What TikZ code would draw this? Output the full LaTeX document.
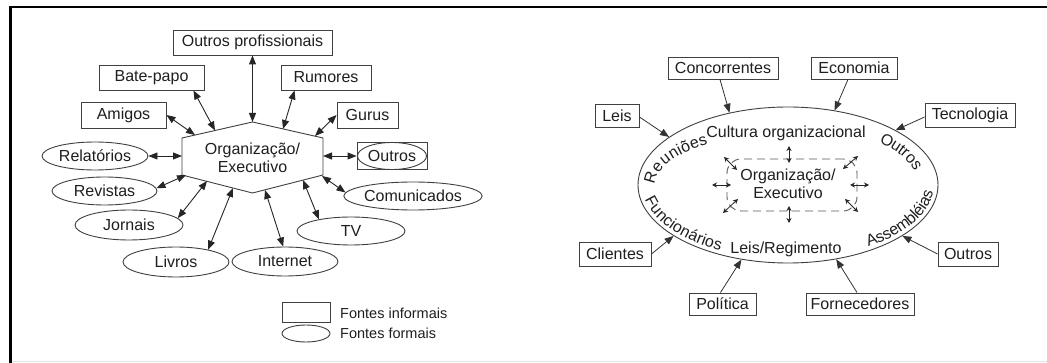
\documentclass[tikz,border=0pt]{standalone}
\usepackage{fontspec}
\setmainfont{Liberation Sans}
\usetikzlibrary{shapes.geometric,arrows.meta,calc}
% place characters one by one along an ellipse arc
% #1 cx, #2 cy, #3 rx, #4 ry, #5 start angle, #6 direction (1 or -1), #7 list of characters
\newcommand\ellchars[7]{%
  \xdef\ecT{#5}%
  \foreach \ch in {#7}{%
    \fontsize{16}{18}\selectfont
    \pgfmathwidth{"\ch"}\global\let\ecW\pgfmathresult
    \pgfmathsetmacro\ecS{veclen(#3*sin(\ecT),#4*cos(\ecT))}%
    \pgfmathsetmacro\ecD{#6*\ecW/\ecS*57.29578}%
    \pgfmathsetmacro\ecM{\ecT+\ecD/2}%
    \pgfmathsetmacro\ecR{atan2(-#6*#4*cos(\ecM), -#6*#3*sin(\ecM))}%
    \node[anchor=base, rotate=\ecR, inner sep=0pt] at ({#1+#3*cos(\ecM)},{#2+#4*sin(\ecM)}) {\ch};
    \pgfmathsetmacro\ecN{\ecT+\ecD}%
    \xdef\ecT{\ecN}%
  }%
}
\begin{document}
\begin{tikzpicture}[x=1pt,y=-1pt,
  every node/.style={font=\fontsize{16}{18}\selectfont, text=black!88},
  ibox/.style={draw=black!75, line width=0.9pt, rectangle, minimum height=25pt, inner sep=0pt},
  fbox/.style={draw=black!75, line width=0.9pt, ellipse, inner sep=0pt},
  dbl/.style={{Triangle[length=9pt,width=7pt]}-{Triangle[length=9pt,width=7pt]}, line width=0.9pt, draw=black!85},
  sgl/.style={-{Triangle[length=9pt,width=7pt]}, line width=0.8pt, draw=black!80},
  smallarr/.style={{Stealth[length=5pt,width=5pt]}-{Stealth[length=5pt,width=5pt]}, line width=0.8pt, draw=black!85},
]
\useasboundingbox (0,0) rectangle (1047,363);
\fill[white] (0,0) rectangle (1047,363);
% frame
\draw[line width=2.5pt] (10.3,363) -- (10.3,7.2) -- (1047,7.2);
\draw[black!10, line width=1pt] (11.5,361.5) -- (1047,361.5);

% ---------------- left diagram ----------------
\coordinate (ht) at (252.5,122);
\coordinate (hul) at (182,138);
\coordinate (hll) at (182,175);
\coordinate (hb) at (252.5,193);
\coordinate (hlr) at (323,175);
\coordinate (hur) at (323,138);
\draw[black!75, line width=0.9pt] (ht) -- (hul) -- (hll) -- (hb) -- (hlr) -- (hur) -- cycle;
\node[align=center] (hex) at (252.5,158) {Organização/\\Executivo};

\coordinate (hbp) at (215,130.5);
\coordinate (hrm) at (283,129);
\coordinate (ham) at (195,135);
\coordinate (hgu) at (315,136);
\coordinate (hrel) at (182,156);
\coordinate (hou) at (323,156);
\coordinate (hrev) at (186,175);
\coordinate (hcom) at (322,176);
\coordinate (hjor) at (207,181);
\coordinate (htv) at (303,180);
\coordinate (hliv) at (233,188);
\coordinate (hint) at (265,190);

\node[ibox, minimum width=159pt] (op) at (252.5,42.5) {Outros profissionais};
\node[ibox, minimum width=105pt] (bp) at (151.5,77.5) {Bate-papo};
\node[ibox, minimum width=90pt] (rm) at (326,77.5) {Rumores};
\node[ibox, minimum width=85pt, minimum height=26pt] (am) at (123.5,115) {Amigos};
\node[ibox, minimum width=61pt, minimum height=26pt] (gu) at (367.5,115) {Gurus};
\node[fbox, minimum width=106pt, minimum height=28pt] (rel) at (95,156) {Relatórios};
\node[ibox, minimum width=70pt, minimum height=27pt] (oub) at (392,156) {};
\node[fbox, minimum width=69pt, minimum height=27pt] (ou) at (392,156) {Outros};
\node[fbox, minimum width=105pt, minimum height=28pt] (rev) at (104.5,191) {Revistas};
\node[fbox, minimum width=126pt, minimum height=28pt] (com) at (413,196) {Comunicados};
\node[fbox, minimum width=108pt, minimum height=30pt] (jor) at (129,225) {Jornais};
\node[fbox, minimum width=108pt, minimum height=28pt] (tv) at (351,231) {TV};
\node[fbox, minimum width=106pt, minimum height=30pt] (liv) at (176,262) {Livros};
\node[fbox, minimum width=106pt, minimum height=29pt] (int) at (285,261.5) {Internet};

\draw[dbl] (op.south) -- (ht);
\draw[dbl] ([xshift=-11pt]bp.south east) -- (hbp);
\draw[dbl] ([xshift=14pt]rm.south west) -- (hrm);
\draw[dbl] (am.east) -- (ham);
\draw[dbl] (gu.west) -- (hgu);
\draw[dbl] (rel.east) -- (hrel);
\draw[dbl] (hou) -- (oub.west);
\draw[dbl] (rev.3) -- (hrev);
\draw[dbl] (hcom) -- (com.177);
\draw[dbl] (jor.8) -- (hjor);
\draw[dbl] (htv) -- (tv.160);
\draw[dbl] (liv.21) -- (hliv);
\draw[dbl] (hint) -- (int.97);

% legend
\node[draw=black!75, line width=0.9pt, minimum width=48pt, minimum height=20pt, inner sep=0pt] (lr) at (306,312) {};
\node[draw=black!75, ellipse, line width=0.9pt, minimum width=48pt, minimum height=17pt, inner sep=0pt] (le) at (306,333.5) {};
\node[anchor=west, inner sep=0pt, font=\fontsize{14.5}{16}\selectfont] (lt1) at (340,313) {Fontes informais};
\node[anchor=west, inner sep=0pt, font=\fontsize{14.5}{16}\selectfont] (lt2) at (340,333) {Fontes formais};

% ---------------- right diagram ----------------
\node[ellipse, draw=black!75, line width=0.9pt, minimum width=300pt, minimum height=156pt, inner sep=0pt] (E) at (788,185) {};

\node (cult) at (786,133) {Cultura organizacional};
\node (lreg) at (786,249) {Leis/Regimento};

\ellchars{788}{185}{133}{51}{180}{1}{R,e,u,n,i,õ,e,s}
\ellchars{788}{185}{146}{74}{168.6}{-1}{F,u,n,c,i,o,n,á,r,i,o,s}
\ellchars{788}{185}{130}{60}{314.5}{1}{O,u,t,r,o,s}
\ellchars{788}{185}{146}{74}{56.6}{-1}{A,s,s,e,m,b,l,é,i,a,s}

\node[draw=black!65, dash pattern=on 8pt off 5pt, line width=0.9pt, rounded corners=14pt, minimum width=130pt, minimum height=52pt, inner sep=0pt] (inner) at (792,185) {};
\node[align=center] (itext) at (788,184) {Organização/\\Executivo};

\draw[smallarr] (789,146) -- (789,163);
\draw[smallarr] (789,206) -- (789,223);
\draw[smallarr] (712,185) -- (731,185);
\draw[smallarr] (850,185) -- (869,185);
\draw[smallarr] (724,157) -- (737,170);
\draw[smallarr] (723,213) -- (738,199);
\draw[smallarr] (843,169) -- (858,156);
\draw[smallarr] (845,199) -- (858,212);

\node[ibox, minimum width=110pt, minimum height=22pt] (conc) at (723,68) {Concorrentes};
\node[ibox, minimum width=86pt, minimum height=22pt] (eco) at (854,68) {Economia};
\node[ibox, minimum width=44pt, minimum height=23pt] (leis) at (617,115.5) {Leis};
\node[ibox, minimum width=90pt, minimum height=24pt] (tec) at (970,115) {Tecnologia};
\node[ibox, minimum width=72pt, minimum height=24pt] (cli) at (615,254) {Clientes};
\node[ibox, minimum width=60pt, minimum height=24pt] (out2) at (968,254) {Outros};
\node[ibox, minimum width=67pt, minimum height=22pt] (pol) at (722.5,304) {Política};
\node[ibox, minimum width=108pt, minimum height=22pt] (forn) at (860,304) {Fornecedores};

\draw[sgl] ([xshift=-3pt]conc.south) -- (E.129);
\draw[sgl] ([xshift=-6pt]eco.south) -- (E.58);
\draw[sgl] ([yshift=-1.5pt]leis.east) -- (E.158);
\draw[sgl] ([yshift=-2pt]tec.west) -- (E.27);
\draw[sgl] (cli.east) -- (E.204);
\draw[sgl] (out2.west) -- (E.336);
\draw[sgl] ([xshift=-2pt]pol.north) -- (E.238);
\draw[sgl] ([xshift=-3pt]forn.north) -- (E.303);
\end{tikzpicture}
\end{document}
